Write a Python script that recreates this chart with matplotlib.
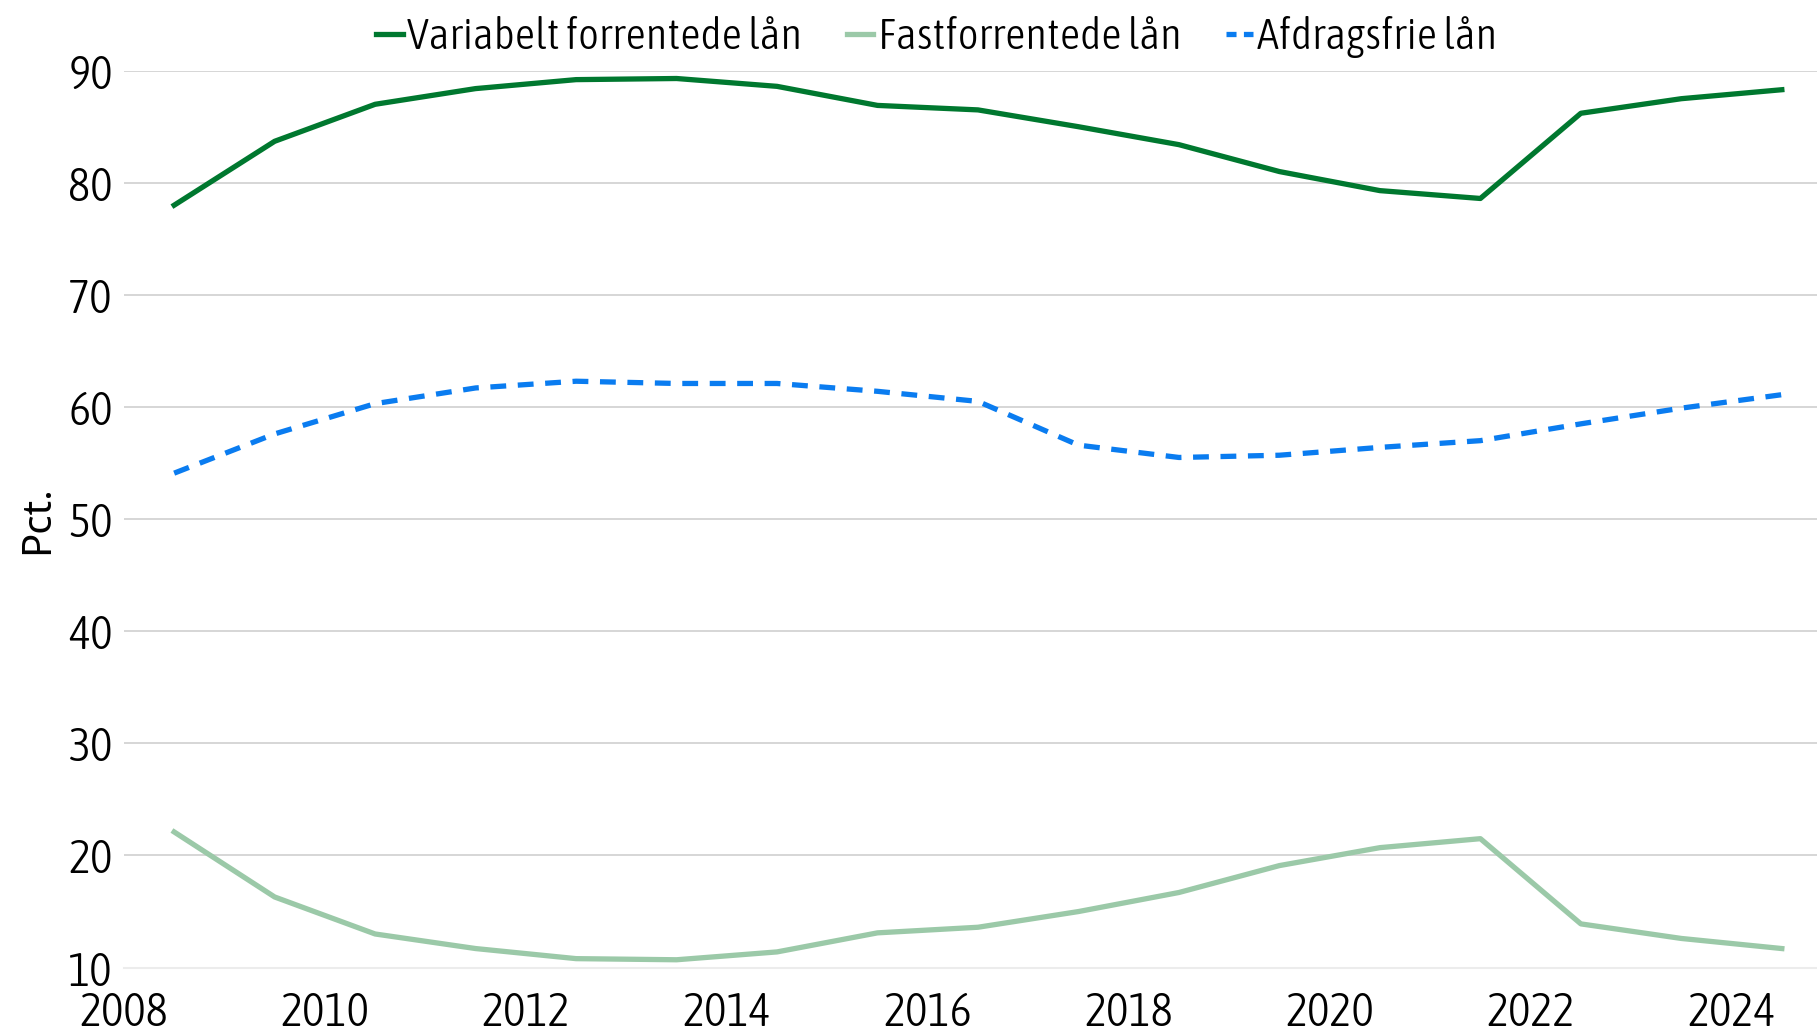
import matplotlib.pyplot as plt
from matplotlib import font_manager
from matplotlib.font_manager import FontProperties
from matplotlib.lines import Line2D

years = [2008.5, 2009.5, 2010.5, 2011.5, 2012.5, 2013.5, 2014.5, 2015.5, 2016.5,
         2017.5, 2018.5, 2019.5, 2020.5, 2021.5, 2022.5, 2023.5, 2024.5]
variabel = [78.0, 83.7, 87.0, 88.4, 89.2, 89.3, 88.6, 86.9, 86.5,
            85.0, 83.4, 81.0, 79.3, 78.6, 86.2, 87.5, 88.3]
fast = [22.1, 16.3, 13.0, 11.7, 10.8, 10.7, 11.4, 13.1, 13.6,
        15.0, 16.7, 19.1, 20.7, 21.5, 13.9, 12.6, 11.7]
afdragsfri = [54.1, 57.6, 60.3, 61.7, 62.3, 62.1, 62.1, 61.4, 60.5,
              56.6, 55.5, 55.7, 56.4, 57.0, 58.5, 59.9, 61.1]
labels = ['Variabelt forrentede lån', 'Fastforrentede lån', 'Afdragsfrie lån']
xticks = list(range(2008, 2025, 2))
yticks = list(range(10, 91, 10))


def stretch_rank(f):
    name = f.name.replace(' ', '')
    st = str(f.stretch)
    if 'Extra' in name or 'Ultra' in name or st in ('extra-condensed', 'ultra-condensed'):
        return 2
    if 'Semi' in name or st == 'semi-condensed':
        return 1
    if 'Condensed' in name or 'Narrow' in name or st == 'condensed':
        return 0
    return None


def narrow_font():
    # plain condensed face first, light weight preferred
    best = None
    for f in font_manager.fontManager.ttflist:
        rank = stretch_rank(f)
        if rank is None or f.style != 'normal':
            continue
        w = f.weight if isinstance(f.weight, int) else 400
        if w > 400 or w < 300:
            continue
        score = rank * 1000 + abs(w - 300)
        if best is None or score < best[0]:
            best = (score, f.fname)
    if best:
        return FontProperties(fname=best[1])
    names = {f.name for f in font_manager.fontManager.ttflist}
    for fam in ['Roboto', 'Lato', 'Noto Sans']:
        if fam in names:
            return FontProperties(family=fam)
    return FontProperties(family='DejaVu Sans')


tick_font = narrow_font()
plt.rcParams['font.family'] = ['Noto Sans', 'DejaVu Sans']

green, light, blue = '#00782f', '#9bc9a8', '#0a7cf0'
lw = 3.8

fig = plt.figure(figsize=(18.17, 10.33), dpi=100)
ax = fig.add_axes([0.0682, 0.0633, 0.9318, 0.8683])

ax.plot(years, variabel, color=green, lw=lw)
ax.plot(years, fast, color=light, lw=lw)
ax.plot(years, afdragsfri, color=blue, lw=lw, dashes=(3.0, 2.2))

ax.set_xlim(2008, 2024.85)
ax.set_ylim(10, 90)
ax.set_xticks(xticks)
ax.set_yticks(yticks)
ax.grid(axis='y', color='#cfcfcf', lw=1.2)
ax.set_axisbelow(True)
for s in ['top', 'right', 'left']:
    ax.spines[s].set_visible(False)
ax.spines['bottom'].set_color('#ececec')
ax.spines['bottom'].set_linewidth(1.5)
ax.tick_params(axis='both', length=0, colors='black')
ax.tick_params(axis='x', pad=16)
ax.tick_params(axis='y', pad=8)
for lab in ax.get_xticklabels() + ax.get_yticklabels():
    lab.set_fontproperties(tick_font)
    lab.set_fontsize(34)
ax.set_ylabel('Pct.', fontsize=29, labelpad=7)

# legend keys with short segments like the original key style
handles = [Line2D([], [], color=green, lw=lw),
           Line2D([], [], color=light, lw=lw),
           Line2D([], [], color=blue, lw=lw, dashes=(1.9, 1.4))]
leg_font = tick_font.copy()
leg_font.set_size(32)
ax.legend(handles, labels, loc='upper center', bbox_to_anchor=(0.48, 1.105), ncol=3,
          frameon=False, prop=leg_font, handlelength=0.6, handletextpad=0.1,
          columnspacing=1.0)

fig.savefig('out.png', dpi=100)
